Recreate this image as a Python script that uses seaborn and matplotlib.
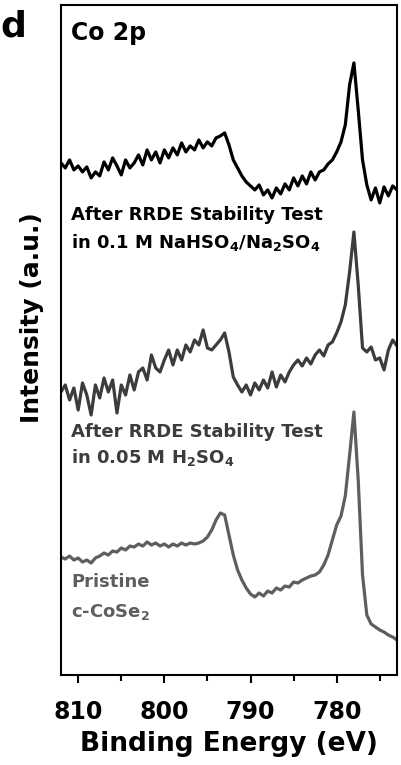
import numpy as np
import pandas as pd
import matplotlib
matplotlib.use("Agg")
import matplotlib.pyplot as plt
from matplotlib.ticker import MultipleLocator
import seaborn as sns

# Binding energy grid (eV), shared by the three spectra
energy = [812, 811.5, 811, 810.5, 810, 809.5, 809, 808.5, 808, 807.5,
          807, 806.5, 806, 805.5, 805, 804.5, 804, 803.5, 803, 802.5,
          802, 801.5, 801, 800.5, 800, 799.5, 799, 798.5, 798, 797.5,
          797, 796.5, 796, 795.5, 795, 794.5, 794, 793.5, 793, 792.5,
          792, 791.5, 791, 790.5, 790, 789.5, 789, 788.5, 788, 787.5,
          787, 786.5, 786, 785.5, 785, 784.5, 784, 783.5, 783, 782.5,
          782, 781.5, 781, 780.5, 780, 779.5, 779, 778.5, 778, 777.5,
          777, 776.5, 776, 775.5, 775, 774.5, 774, 773.5, 773]

# After RRDE stability test in 0.1 M NaHSO4/Na2SO4 (top, black)
int_nahso4 = [512, 507, 515, 505, 509, 503, 508, 497, 503, 499,
              513, 505, 517, 509, 500, 515, 507, 512, 520, 510,
              525, 515, 523, 512, 525, 517, 527, 520, 532, 523,
              529, 525, 535, 527, 533, 529, 537, 539, 542, 530,
              515, 507, 499, 493, 489, 485, 490, 480, 485, 477,
              487, 481, 491, 485, 497, 489, 499, 491, 503, 495,
              503, 505, 511, 515, 523, 533, 550, 590, 612, 565,
              515, 490, 475, 487, 472, 488, 479, 489, 485]

# After RRDE stability test in 0.05 M H2SO4 (middle, dark grey)
int_h2so4 = [283, 290, 275, 287, 265, 292, 280, 260, 290, 277,
             297, 283, 295, 262, 290, 280, 300, 285, 303, 307,
             295, 320, 307, 303, 315, 325, 310, 325, 315, 330,
             323, 335, 330, 345, 327, 325, 330, 335, 342, 323,
             298, 290, 283, 290, 280, 292, 285, 295, 287, 303,
             288, 300, 293, 303, 310, 315, 309, 317, 311, 320,
             325, 319, 330, 333, 342, 353, 370, 403, 443, 390,
             327, 323, 328, 315, 317, 305, 325, 335, 329]

# Pristine c-CoSe2 (bottom, grey)
int_pristine = [118, 116, 119, 115, 117, 113, 115, 112, 117, 119,
                122, 120, 124, 123, 127, 125, 129, 128, 131, 129,
                133, 130, 132, 129, 131, 128, 131, 129, 132, 130,
                132, 131, 132, 134, 138, 145, 155, 162, 160, 140,
                120, 105, 95, 87, 81, 78, 82, 79, 84, 82,
                87, 85, 89, 88, 93, 92, 95, 97, 99, 100,
                103, 110, 120, 135, 150, 159, 179, 220, 263, 195,
                100, 60, 51, 48, 45, 43, 40, 38, 35]

series_names = ["NaHSO4", "H2SO4", "Pristine"]
series_colors = ["#000000", "#3c3c3c", "#5e5e5e"]
x_ticks = [810, 800, 790, 780]

sns.set_style("ticks")
plt.rcParams["font.family"] = ["DejaVu Sans"]
plt.rcParams["font.weight"] = "bold"
plt.rcParams["mathtext.default"] = "bf"
plt.rcParams["text.color"] = "black"
plt.rcParams["axes.labelcolor"] = "black"
plt.rcParams["xtick.color"] = "black"
plt.rcParams["xtick.labelcolor"] = "black"

df = pd.concat([
    pd.DataFrame({"energy": energy, "intensity": int_nahso4, "sample": series_names[0]}),
    pd.DataFrame({"energy": energy, "intensity": int_h2so4, "sample": series_names[1]}),
    pd.DataFrame({"energy": energy, "intensity": int_pristine, "sample": series_names[2]}),
])

fig = plt.figure(figsize=(4.01, 7.65), dpi=100)
ax = fig.add_axes([0.152, 0.1176, 0.838, 0.876])

sns.lineplot(data=df, x="energy", y="intensity", hue="sample",
             palette=dict(zip(series_names, series_colors)),
             linewidth=2.3, legend=False, ax=ax, estimator=None, sort=False)

ax.set_xlim(812, 773)
ax.set_ylim(0, 670)
ax.set_yticks([])
ax.set_xticks(x_ticks)
ax.xaxis.set_minor_locator(MultipleLocator(5))
ax.tick_params(axis="x", which="major", length=6, width=1.5, direction="out",
               labelsize=17, pad=12, colors="black")
ax.tick_params(axis="x", which="minor", length=4, width=1.5, direction="out",
               colors="black")
for lab in ax.get_xticklabels():
    lab.set_fontweight("bold")
for sp in ax.spines.values():
    sp.set_linewidth(1.5)
    sp.set_color("black")

ax.set_xlabel("Binding Energy (eV)", fontsize=19, fontweight="bold", labelpad=5,
              color="black")
ax.set_ylabel("Intensity (a.u.)", fontsize=18, fontweight="bold", color="black")
ax.yaxis.set_label_coords(-0.05, 0.533)

ax.text(0.03, 0.958, "Co 2p", transform=ax.transAxes, fontsize=17,
        fontweight="bold", va="center", ha="left", color="black")
fig.text(0.002, 0.965, "d", fontsize=26, fontweight="bold", va="center", ha="left",
         color="black")

tkw = dict(transform=ax.transAxes, fontsize=13, fontweight="bold", ha="left", va="center")
ax.text(0.03, 0.687, "After RRDE Stability Test", color=series_colors[0], **tkw)
ax.text(0.03, 0.645, "in 0.1 M NaHSO$_4$/Na$_2$SO$_4$", color=series_colors[0], **tkw)
ax.text(0.03, 0.363, "After RRDE Stability Test", color=series_colors[1], **tkw)
ax.text(0.03, 0.324, "in 0.05 M H$_2$SO$_4$", color=series_colors[1], **tkw)
ax.text(0.03, 0.139, "Pristine", color=series_colors[2], **tkw)
ax.text(0.03, 0.094, "c-CoSe$_2$", color=series_colors[2], **tkw)

fig.savefig("out.png", dpi=100)
